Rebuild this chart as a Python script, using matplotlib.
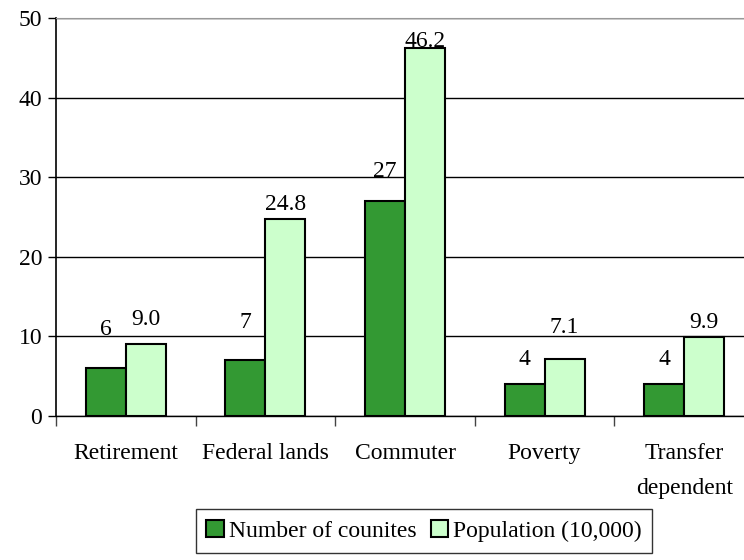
import numpy as np
import matplotlib.pyplot as plt

plt.rcParams['font.family'] = ['Liberation Serif', 'DejaVu Serif']

categorias = ['Retirement', 'Federal lands', 'Commuter', 'Poverty', 'Transfer\ndependent']
condados = [6, 7, 27, 4, 4]
populacao = [9.0, 24.8, 46.2, 7.1, 9.9]
rot_condados = ['6', '7', '27', '4', '4']
rot_populacao = ['9.0', '24.8', '46.2', '7.1', '9.9']

# deslocamento dos rotulos acima das barras (pixels), como no original
desl_condados = [33, 32, 24, 19, 19]
desl_populacao = [19, 9, 1, 26, 9]

verde = '#339933'
verde_claro = '#ccffcc'
fs = 17

fig = plt.figure(figsize=(7.44, 5.6), dpi=100)
# a area do grafico passa um pouco da borda direita, como no original
ax = fig.add_axes([56 / 744, 144 / 560, 698 / 744, 398 / 560])

x = np.arange(len(categorias))
w = 0.287
b1 = ax.bar(x - w / 2, condados, w, color=verde, edgecolor='black', linewidth=1.5,
            label='Number of counites', zorder=3)
b2 = ax.bar(x + w / 2, populacao, w, color=verde_claro, edgecolor='black', linewidth=1.5,
            label='Population (10,000)', zorder=3)

for xi, v, t, d in zip(x - w / 2, condados, rot_condados, desl_condados):
    ax.annotate(t, (xi, v), xytext=(0, d), textcoords='offset pixels',
                ha='center', va='baseline', fontsize=fs)
for xi, v, t, d in zip(x + w / 2, populacao, rot_populacao, desl_populacao):
    ax.annotate(t, (xi, v), xytext=(0, d), textcoords='offset pixels',
                ha='center', va='baseline', fontsize=fs)

ax.set_xlim(-0.5, len(categorias) - 0.5)
ax.set_ylim(0, 50)
ax.set_yticks(np.arange(0, 51, 10))
ax.tick_params(axis='y', labelsize=fs, length=6, width=1, direction='out', pad=4)

ax.set_xticks(np.arange(-0.5, len(categorias), 1))
ax.set_xticklabels([])
ax.tick_params(axis='x', which='major', length=7, width=1, direction='out', color='#444444')

for xi, c in zip(x, categorias):
    ax.annotate(c, (xi, 0), xycoords=('data', 'axes fraction'), xytext=(0, -27),
                textcoords='offset pixels', ha='center', va='top', fontsize=fs,
                linespacing=1.85, annotation_clip=False)

ax.yaxis.grid(True, color='black', linewidth=1)
ax.set_axisbelow(True)

ax.spines['right'].set_visible(False)
ax.spines['top'].set_color('#999999')
ax.spines['left'].set_linewidth(1.2)
ax.spines['bottom'].set_linewidth(1)

leg = fig.legend(handles=[b1, b2], loc='center', bbox_to_anchor=(424 / 744, 1 - 531 / 560),
                 ncol=2, fontsize=fs, frameon=True, fancybox=False, edgecolor='black',
                 handlelength=0.75, handleheight=0.75, handletextpad=0.2, columnspacing=0.6,
                 borderpad=0.45, borderaxespad=0)
leg.get_frame().set_linewidth(1)

fig.savefig('out.png', dpi=100)
